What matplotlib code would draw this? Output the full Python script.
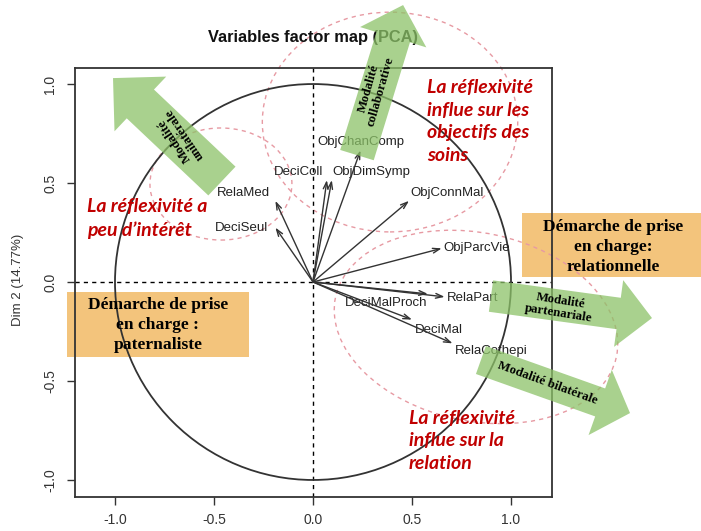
import numpy as np
import matplotlib.pyplot as plt
from matplotlib.patches import Ellipse, Polygon, Rectangle, Circle

# ---------------------------------------------------------------------------
# data
# ---------------------------------------------------------------------------
var_names = ['RelaMed', 'DeciSeul', 'DeciColl', 'ObjDimSymp', 'ObjChanComp',
             'ObjConnMal', 'ObjParcVie', 'RelaPart', 'DeciMalProch',
             'DeciMal', 'RelaCothepi']
dim1 = [-0.19, -0.19, 0.07, 0.095, 0.24, 0.485, 0.65, 0.665, 0.58, 0.50, 0.705]
dim2 = [0.41, 0.275, 0.515, 0.515, 0.665, 0.41, 0.17, -0.075, -0.06, -0.19, -0.31]

ticks = [-1.0, -0.5, 0.0, 0.5, 1.0]
tick_labels = ['-1.0', '-0.5', '0.0', '0.5', '1.0']
title = 'Variables factor map (PCA)'
ylabel = 'Dim 2 (14.77%)'

box_texts = ['Démarche de prise\nen charge :\npaternaliste',
             'Démarche de prise\nen charge:\nrelationnelle']
green_texts = ['Modalité\nunilatérale', 'Modalité\ncollaborative',
               'Modalité\npartenariale', 'Modalité bilatérale']
red_texts = ['La réflexivité\ninflue sur les\nobjectifs des\nsoins',
             'La réflexivité a\npeu d’intérêt',
             'La réflexivité\ninflue sur la\nrelation']

# label placement (pixel offset from arrow tip, alignment)
label_pos = {
    'RelaMed': (-5, 8, 'right'), 'DeciSeul': (-7, 0, 'right'),
    'DeciColl': (-4, 8, 'right'), 'ObjDimSymp': (1, 8, 'left'),
    'ObjChanComp': (0, 8, 'center'), 'ObjConnMal': (1, 8, 'left'),
    'ObjParcVie': (2, 0, 'left'), 'RelaPart': (2, -1, 'left'),
    'DeciMalProch': (0, -9, 'right'), 'DeciMal': (3, -10, 'left'),
    'RelaCothepi': (2, -8, 'left'),
}

GREEN = '#8cc268'
ORANGE = '#f3c47c'
RED = '#c00000'
PINK = '#e79aa3'


def block_arrow(ax, tail, tip, shaft_w, head_w, head_l, **kw):
    tail = np.asarray(tail, float)
    tip = np.asarray(tip, float)
    d = tip - tail
    u = d / np.hypot(*d)
    n = np.array([-u[1], u[0]])
    base = tip - u * head_l
    pts = [tail + n * shaft_w / 2, base + n * shaft_w / 2, base + n * head_w / 2,
           tip, base - n * head_w / 2, base - n * shaft_w / 2, tail - n * shaft_w / 2]
    ax.add_patch(Polygon(pts, closed=True, clip_on=False, **kw))


fig = plt.figure(figsize=(7.01, 5.31), dpi=100)
ax = fig.add_axes([75 / 701, 34 / 531, 477 / 701, 429 / 531])
ax.set_xlim(-1.202, 1.207)
ax.set_ylim(-1.086, 1.081)

# frame + ticks, R style
for s in ax.spines.values():
    s.set_linewidth(1.3)
    s.set_color('#333333')
ax.set_xticks(ticks)
ax.set_xticklabels(tick_labels)
ax.set_yticks(ticks)
ax.set_yticklabels(tick_labels, rotation=90, va='center')
ax.tick_params(direction='out', length=5.8, width=1, colors='#333333',
               labelsize=10, labelcolor='#333333')
ax.tick_params(axis='x', pad=6)
ax.tick_params(axis='y', pad=7)
for lab in ax.get_xticklabels() + ax.get_yticklabels():
    lab.set_family('Liberation Sans')

fig.text(18 / 701, 1 - 280 / 531, ylabel, rotation=90, ha='center', va='center',
         fontsize=9.5, color='#333333', family='Liberation Sans')

# orange boxes (behind the plot lines)
ax.add_patch(Rectangle((-1.242, -0.379), 0.919, 0.329, fc=ORANGE, ec='none',
                       zorder=0.5, clip_on=False))
ax.add_patch(Rectangle((1.056, 0.025), 0.92, 0.323, fc=ORANGE, ec='none',
                       zorder=0.5, clip_on=False))

# red dashed groupings
ell_kw = dict(fill=False, ec=PINK, lw=1.0, ls=(0, (3, 3)), zorder=1, clip_on=False)
ax.add_patch(Ellipse((0.389, 0.808), 1.29, 1.11, **ell_kw))
ax.add_patch(Ellipse((-0.465, 0.495), 0.717, 0.566, **ell_kw))
ax.add_patch(Ellipse((0.823, -0.227), 1.45, 0.95, angle=-12, **ell_kw))

# axes through origin + correlation circle
ax.axhline(0, color='black', lw=1, ls=(0, (3, 3)), zorder=2)
ax.axvline(0, color='black', lw=1, ls=(0, (3, 3)), zorder=2)
ax.add_patch(Circle((0, 0), 1, fill=False, ec='#333333', lw=1.3, zorder=2))

# variable arrows
for name, x, y in zip(var_names, dim1, dim2):
    ax.annotate('', xy=(x, y), xytext=(0, 0),
                arrowprops=dict(arrowstyle='->,head_length=0.5,head_width=0.17',
                                color='#333333', lw=1.0, shrinkA=0, shrinkB=0),
                zorder=3)
    dx, dy, ha = label_pos[name]
    ax.annotate(name, xy=(x, y), xytext=(dx, dy), textcoords='offset pixels',
                ha=ha, va='center', fontsize=9.5, color='#222222',
                family='Liberation Sans', zorder=3)

# title (drawn in axes so the green arrow can sit on top of it)
ax.text(0.0, 1.237, title, ha='center', va='center', fontsize=11.8,
        fontweight='bold', color='#111111', family='Liberation Sans',
        zorder=3, clip_on=False)

# green block arrows
arr_kw = dict(fc=GREEN, ec='none', alpha=0.75, zorder=4)
block_arrow(ax, (-0.46, 0.51), (-1.01, 1.03), 0.20, 0.38, 0.19, **arr_kw)
block_arrow(ax, (0.222, 0.641), (0.455, 1.399), 0.177, 0.35, 0.17, **arr_kw)
block_arrow(ax, (0.899, -0.071), (1.712, -0.182), 0.16, 0.34, 0.17, **arr_kw)
block_arrow(ax, (0.848, -0.394), (1.601, -0.662), 0.15, 0.35, 0.16, **arr_kw)

serif = dict(family='Liberation Serif', fontweight='bold', color='black',
             ha='center', va='center', zorder=5, clip_on=False)
ax.text(-0.672, 0.732, green_texts[0], rotation=124, fontsize=9.3,
        linespacing=1.0, **serif)
ax.text(0.313, 0.97, green_texts[1], rotation=74, fontsize=9.3,
        linespacing=1.0, **serif)
ax.text(1.247, -0.126, green_texts[2], rotation=-9, fontsize=9.3,
        linespacing=1.05, **serif)
ax.text(1.182, -0.51, green_texts[3], rotation=-20, fontsize=9.3, **serif)

# orange box texts
ax.text(-0.783, -0.217, box_texts[0], fontsize=12.6, linespacing=1.3, **serif)
ax.text(1.515, 0.177, box_texts[1], fontsize=12.6, linespacing=1.3, **serif)

# red comments
red = dict(family='Lato', fontweight='bold', style='italic', color=RED,
           ha='left', va='center', fontsize=14, linespacing=1.4,
           zorder=5, clip_on=False)
ax.text(0.576, 0.811, red_texts[0], **red)
ax.text(-1.141, 0.321, red_texts[1], **red)
ax.text(0.485, -0.803, red_texts[2], **red)

fig.savefig('out.png', dpi=100)
